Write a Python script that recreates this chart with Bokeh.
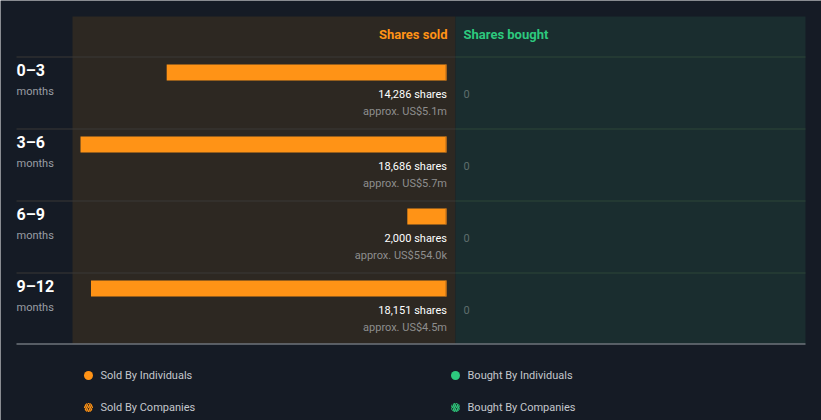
from bokeh.plotting import figure
from bokeh.models import Range1d
from bokeh.core.properties import value
from bokeh.embed import file_html
from bokeh.resources import INLINE

# ---- data ----
periods = ["0–3", "3–6", "6–9", "9–12"]
period_unit = ["months", "months", "months", "months"]
sold_shares = [14286, 18686, 2000, 18151]
sold_value = ["US$5.1m", "US$5.7m", "US$554.0k", "US$4.5m"]
bought_shares = [0, 0, 0, 0]
legend_sold = ["Sold By Individuals", "Sold By Companies"]
legend_bought = ["Bought By Individuals", "Bought By Companies"]

# ---- style ----
W, H = 821, 420
BG = "#151b25"
SOLD_BG = "#2d2822"
BOUGHT_BG = "#1a2d2f"
ORANGE = "#ff9316"
GREEN = "#2dc97e"
FONT = value("Roboto")

# layout geometry (screen px)
panel_left, panel_mid, panel_right = 72, 455, 805
panel_top, header_bottom, row_h = 16, 56, 72
bar_end_px, bar_max_px = 446, 366

# shares scale: x=0 at bar_end_px, max shares spans bar_max_px, bars grow leftwards
k = bar_max_px / max(sold_shares)
x_start = bar_end_px / k
x_end = -(W - bar_end_px) / k

p = figure(width=W, height=H, output_backend="svg", toolbar_location=None,
           x_range=Range1d(x_start, x_end), y_range=Range1d(H, 0),
           x_axis_location=None, y_axis_location=None, min_border=0)
p.extra_x_ranges = {"px": Range1d(0, W)}
p.grid.visible = False
p.outline_line_color = None
p.background_fill_color = BG
p.border_fill_color = BG

n = len(periods)
bottom_line = header_bottom + n * row_h


def base(y, fs):
    # Bokeh draws "alphabetic" text a bit low; lift to the intended baseline
    return y - 0.37 * fs


def txt(x, y, text, color, fs, align="left", bold=False):
    p.text(x=x, y=[base(v, fs) for v in y], text=text, text_color=color,
           text_font=FONT, text_font_size=f"{fs}px",
           text_font_style="bold" if bold else "normal",
           text_align=align, text_baseline="alphabetic", x_range_name="px")


# panels
p.quad(left=[panel_left], right=[panel_mid], top=[panel_top], bottom=[bottom_line - 1],
       fill_color=SOLD_BG, line_color=None, x_range_name="px")
p.quad(left=[panel_mid], right=[panel_right], top=[panel_top], bottom=[bottom_line - 1],
       fill_color=BOUGHT_BG, line_color=None, x_range_name="px")

# row separators
sep_y = [header_bottom + 0.5 + i * row_h for i in range(n)]
p.segment(x0=[16] * n, x1=[panel_mid] * n, y0=sep_y, y1=sep_y,
          line_color="#3a3837", line_width=1, x_range_name="px")
p.segment(x0=[panel_mid] * n, x1=[panel_right] * n, y0=sep_y, y1=sep_y,
          line_color="#2c4639", line_width=1, x_range_name="px")
p.segment(x0=[16], x1=[panel_right], y0=[bottom_line - 0.5], y1=[bottom_line - 0.5],
          line_color="#9aa0a6", line_width=1, x_range_name="px")

# header
txt([bar_end_px + 1], [38.7], ["Shares sold"], ORANGE, 13, "right", True)
txt([463], [38.7], ["Shares bought"], GREEN, 13, "left", True)

row_top = [header_bottom + i * row_h for i in range(n)]
bar_y = [t + 16 for t in row_top]

# bars (data scale)
p.hbar(y=bar_y, left=[0] * n, right=sold_shares, height=16,
       fill_color=ORANGE, line_color=None)
edge = 0.5 / k
p.segment(x0=[edge] * n, x1=[edge] * n, y0=[y - 8 for y in bar_y], y1=[y + 8 for y in bar_y],
          line_color="#b5681a", line_width=1)

# labels
txt([bar_end_px + 0.5] * n, [t + 42 for t in row_top],
    [f"{s:,} shares" for s in sold_shares], "#ffffff", 11, "right")
txt([bar_end_px + 0.5] * n, [t + 59 for t in row_top],
    [f"approx. {v}" for v in sold_value], "#8e8e8e", 11, "right")
txt([463] * n, [t + 42 for t in row_top],
    [f"{b:,}" for b in bought_shares], "#5f6e6d", 11, "left")

# period labels
txt([16] * n, [t + 20 for t in row_top], periods, "#ffffff", 16, "left", True)
txt([16] * n, [t + 39.5 for t in row_top], period_unit, "#9a9ea4", 11, "left")

# legend
leg_y = [375, 407]
p.scatter(x=[88], y=[leg_y[0]], marker="circle", size=9, fill_color=ORANGE,
          line_color=None, x_range_name="px")
p.scatter(x=[88], y=[leg_y[1]], marker="circle", size=9, fill_color="#3e2c18",
          line_color=None, hatch_pattern="right_diagonal_line", hatch_color=ORANGE,
          hatch_scale=4, hatch_weight=1.4, x_range_name="px")
p.scatter(x=[455], y=[leg_y[0]], marker="circle", size=9, fill_color=GREEN,
          line_color=None, x_range_name="px")
p.scatter(x=[455], y=[leg_y[1]], marker="circle", size=9, fill_color="#1b3a2e",
          line_color=None, hatch_pattern="right_diagonal_line", hatch_color=GREEN,
          hatch_scale=4, hatch_weight=1.4, x_range_name="px")
p.text(x=[100, 100], y=leg_y, text=legend_sold, text_color="#c4c7cc",
       text_font=FONT, text_font_size="11px", text_align="left",
       text_baseline="middle", x_range_name="px")
p.text(x=[467, 467], y=leg_y, text=legend_bought, text_color="#c4c7cc",
       text_font=FONT, text_font_size="11px", text_align="left",
       text_baseline="middle", x_range_name="px")

open("out.html", "w").write(file_html(p, INLINE))
